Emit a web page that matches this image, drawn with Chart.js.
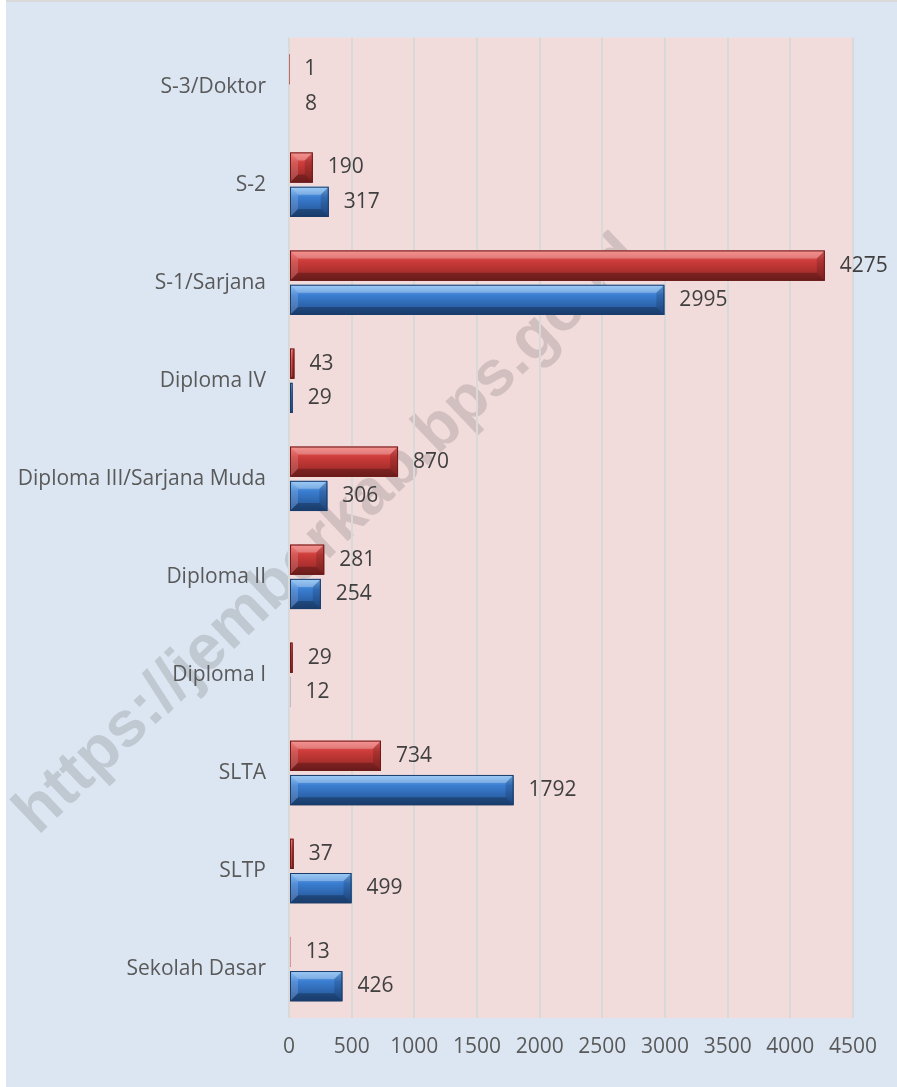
<!DOCTYPE html>
<html>
<head>
<meta charset="utf-8">
<script src="https://cdn.jsdelivr.net/npm/chart.js@4.4.0/dist/chart.umd.min.js"></script>
<style>
  html, body { margin: 0; padding: 0; background: #fff; }
  #wrap {
    position: absolute; left: 6px; top: 0;
    width: 891px; height: 1085px;
    border-top: 2px solid #d9d9d9;
    background: #dce6f2;
  }
</style>
</head>
<body>
<div id="wrap"><canvas id="eduChart" width="891" height="1085"></canvas></div>
<script>
// Categories, top to bottom
const categories = [
  'S-3/Doktor', 'S-2', 'S-1/Sarjana', 'Diploma IV', 'Diploma III/Sarjana Muda',
  'Diploma II', 'Diploma I', 'SLTA', 'SLTP', 'Sekolah Dasar'
];
// red series (upper bar)
const seriesRed = [1, 190, 4275, 43, 870, 281, 29, 734, 37, 13];
// blue series (lower bar)
const seriesBlue = [8, 317, 2995, 29, 306, 254, 12, 1792, 499, 426];
const xTicks = [0, 500, 1000, 1500, 2000, 2500, 3000, 3500, 4000, 4500];

const FONT = '"Open Sans", "DejaVu Sans", sans-serif';
const FONT_SIZE = 21;

const palette = [
  { mid: '#cc3c3a', light: '#f26a68', dark: '#8e2524', border: '#6e1a1a' },
  { mid: '#3a7dd0', light: '#7ab8f4', dark: '#214f8e', border: '#1b3d6c' }
];

// fills background, plot area and the watermark
const backdrop = {
  id: 'backdrop',
  beforeDraw(chart) {
    const { ctx, chartArea: a } = chart;
    ctx.save();
    ctx.fillStyle = '#dce6f2';
    ctx.fillRect(0, 0, chart.width, chart.height);
    ctx.fillStyle = '#f2dcdb';
    ctx.fillRect(a.left, a.top, a.right - a.left, a.bottom - a.top);
    ctx.translate(32, 834);
    ctx.rotate(-43.6 * Math.PI / 180);
    ctx.font = 'bold 64px "Liberation Sans", Arial, sans-serif';
    ctx.fillStyle = 'rgba(80, 80, 80, 0.2)';
    ctx.textBaseline = 'alphabetic';
    ctx.fillText('https://jemberkab.bps.go.id', 0, 0);
    ctx.restore();
  }
};

// bevel look + shadow + value labels
const bevel = {
  id: 'bevel',
  beforeDatasetsDraw(chart) {
    const ctx = chart.ctx;
    ctx.save();
    ctx.shadowColor = 'rgba(0,0,0,0.35)';
    ctx.shadowBlur = 5;
    ctx.shadowOffsetX = 2;
    ctx.shadowOffsetY = 3;
  },
  afterDatasetsDraw(chart) {
    const ctx = chart.ctx;
    ctx.restore();
    ctx.save();
    chart.data.datasets.forEach((ds, di) => {
      const col = palette[di];
      chart.getDatasetMeta(di).data.forEach((bar, i) => {
        const p = bar.getProps(['x', 'y', 'base', 'height'], true);
        const l = p.base, r = p.x, t = p.y - p.height / 2, b = p.y + p.height / 2;
        const w = r - l;
        if (w > 2) {
          const bv = Math.min(8, w / 2, p.height / 2);
          const g = ctx.createLinearGradient(0, t, 0, b);
          g.addColorStop(0, col.light);
          g.addColorStop(0.35, col.mid);
          g.addColorStop(1, col.dark);
          ctx.fillStyle = g;
          ctx.fillRect(l, t, w, p.height);
          // top edge
          ctx.fillStyle = 'rgba(255,255,255,0.28)';
          ctx.beginPath();
          ctx.moveTo(l, t); ctx.lineTo(r, t); ctx.lineTo(r - bv, t + bv); ctx.lineTo(l + bv, t + bv);
          ctx.fill();
          // left edge
          ctx.fillStyle = 'rgba(255,255,255,0.15)';
          ctx.beginPath();
          ctx.moveTo(l, t); ctx.lineTo(l + bv, t + bv); ctx.lineTo(l + bv, b - bv); ctx.lineTo(l, b);
          ctx.fill();
          // bottom edge
          ctx.fillStyle = 'rgba(0,0,0,0.25)';
          ctx.beginPath();
          ctx.moveTo(l, b); ctx.lineTo(r, b); ctx.lineTo(r - bv, b - bv); ctx.lineTo(l + bv, b - bv);
          ctx.fill();
          // right edge
          ctx.fillStyle = 'rgba(0,0,0,0.15)';
          ctx.beginPath();
          ctx.moveTo(r, t); ctx.lineTo(r - bv, t + bv); ctx.lineTo(r - bv, b - bv); ctx.lineTo(r, b);
          ctx.fill();
          ctx.strokeStyle = col.border;
          ctx.lineWidth = 1;
          ctx.strokeRect(l + 0.5, t + 0.5, w - 1, p.height - 1);
        }
        // value label
        ctx.fillStyle = '#404040';
        ctx.font = FONT_SIZE + 'px ' + FONT;
        ctx.textAlign = 'left';
        ctx.textBaseline = 'middle';
        ctx.fillText(String(ds.data[i]), r + 15, p.y);
      });
    });
    ctx.restore();
  }
};

new Chart(document.getElementById('eduChart'), {
  type: 'bar',
  data: {
    labels: categories,
    datasets: [
      {
        label: 'Series 1',
        data: seriesRed,
        backgroundColor: palette[0].mid,
        borderColor: palette[0].border,
        borderWidth: 1,
        categoryPercentage: 0.7,
        barPercentage: 0.88
      },
      {
        label: 'Series 2',
        data: seriesBlue,
        backgroundColor: palette[1].mid,
        borderColor: palette[1].border,
        borderWidth: 1,
        categoryPercentage: 0.7,
        barPercentage: 0.88
      }
    ]
  },
  options: {
    indexAxis: 'y',
    responsive: false,
    animation: false,
    layout: { padding: { top: 34, right: 44, left: 0, bottom: 0 } },
    scales: {
      x: {
        min: 0,
        max: 4500,
        afterBuildTicks: (scale) => { scale.ticks = xTicks.map(v => ({ value: v })); },
        afterFit: (scale) => { scale.height = 69; },
        border: { display: false },
        grid: { color: '#d9d9d9', lineWidth: 2, drawTicks: false },
        ticks: {
          padding: 16,
          color: '#595959',
          font: { family: FONT, size: FONT_SIZE },
          callback: (v) => String(v)
        }
      },
      y: {
        afterFit: (scale) => { scale.width = 283; },
        border: { display: false },
        grid: { display: false, drawTicks: false },
        ticks: { padding: 23, color: '#595959', font: { family: FONT, size: FONT_SIZE } }
      }
    },
    plugins: {
      legend: { display: false },
      tooltip: { enabled: false }
    }
  },
  plugins: [backdrop, bevel]
});
</script>
</body>
</html>
